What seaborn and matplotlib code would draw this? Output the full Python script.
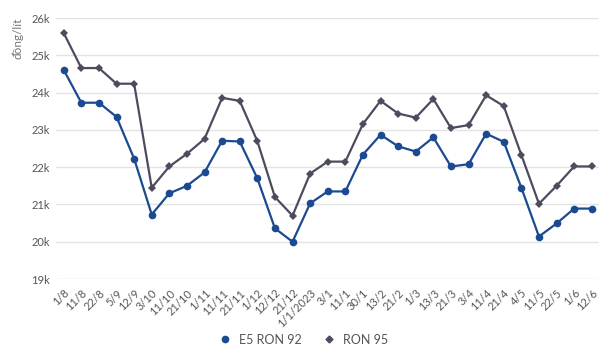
import numpy as np
import pandas as pd
import matplotlib
matplotlib.use('Agg')
import matplotlib.pyplot as plt
import seaborn as sns
from matplotlib.lines import Line2D

# dates of price adjustments (Aug 2022 - Jun 2023)
dates = ['1/8', '11/8', '22/8', '5/9', '12/9', '3/10', '11/10', '21/10', '1/11',
         '11/11', '21/11', '1/12', '12/12', '21/12', '1/1/2023', '3/1', '11/1',
         '30/1', '13/2', '21/2', '1/3', '13/3', '21/3', '3/4', '11/4', '21/4',
         '4/5', '11/5', '22/5', '1/6', '12/6']

e5_ron92 = [24.61, 23.73, 23.73, 23.35, 22.23, 20.73, 21.30, 21.50, 21.86,
            22.71, 22.69, 21.70, 20.36, 20.00, 21.03, 21.35, 21.35,
            22.34, 22.87, 22.56, 22.42, 22.80, 22.02, 22.08, 22.90, 22.68,
            21.45, 20.14, 20.49, 20.89, 20.89]

ron95 = [25.60, 24.66, 24.66, 24.24, 24.24, 21.45, 22.02, 22.36, 22.76,
         23.86, 23.78, 22.70, 21.20, 20.70, 21.83, 22.15, 22.15,
         23.16, 23.78, 23.44, 23.33, 23.83, 23.05, 23.13, 23.93, 23.64,
         22.33, 21.02, 21.50, 22.02, 22.02]

df = pd.DataFrame({'x': range(len(dates)), 'E5 RON 92': e5_ron92, 'RON 95': ron95})
df = df.melt(id_vars='x', var_name='fuel', value_name='price')
df['price'] = df['price'] * 1000

sns.set_style('white')
plt.rcParams['font.family'] = ['Lato', 'DejaVu Sans']

fig = plt.figure(figsize=(6, 3.55), dpi=100)
ax = fig.add_axes([0.093, 0.214, 0.905, 0.735])

colors = {'E5 RON 92': '#1b4a90', 'RON 95': '#4f4b5f'}
sns.lineplot(data=df, x='x', y='price', hue='fuel', style='fuel',
             markers={'E5 RON 92': 'o', 'RON 95': 'D'}, dashes=False,
             palette=colors, linewidth=1.6, ax=ax, legend=False)
for line, ms in zip(ax.lines, [5.5, 3.6]):
    line.set_markersize(ms)
    line.set_markeredgewidth(0)

ax.set_ylim(19000, 26000)
ax.set_yticks(range(19000, 26001, 1000))
ax.set_yticklabels([f'{v}k' for v in range(19, 27)])
ax.set_xlim(-0.45, len(dates) - 0.6)
ax.set_xticks(range(len(dates)))
ax.set_xticklabels(dates, rotation=45, ha='right', rotation_mode='anchor')
ax.tick_params(axis='both', labelsize=8, colors='#555555', length=0, pad=4)
ax.tick_params(axis='x', pad=6)
ax.grid(axis='y', color='#e3e3e3', linewidth=1)
ax.set_axisbelow(True)
sns.despine(ax=ax, left=True, bottom=True)
ax.set_xlabel('')
ax.set_ylabel('')
fig.text(0.02, 0.95, 'đồng/lít', rotation=90, ha='left', va='top', fontsize=8.5, color='#777777')

# legend
handles = [Line2D([], [], color=colors['E5 RON 92'], marker='o', linestyle='', markersize=4.5),
           Line2D([], [], color=colors['RON 95'], marker='D', linestyle='', markersize=3.5)]
fig.legend(handles, ['E5 RON 92', 'RON 95'], loc='lower center', bbox_to_anchor=(0.5, -0.005),
           ncol=2, frameon=False, fontsize=9, handletextpad=0.1, columnspacing=1.2,
           labelcolor='#555555')

fig.savefig('out.png', dpi=100)
